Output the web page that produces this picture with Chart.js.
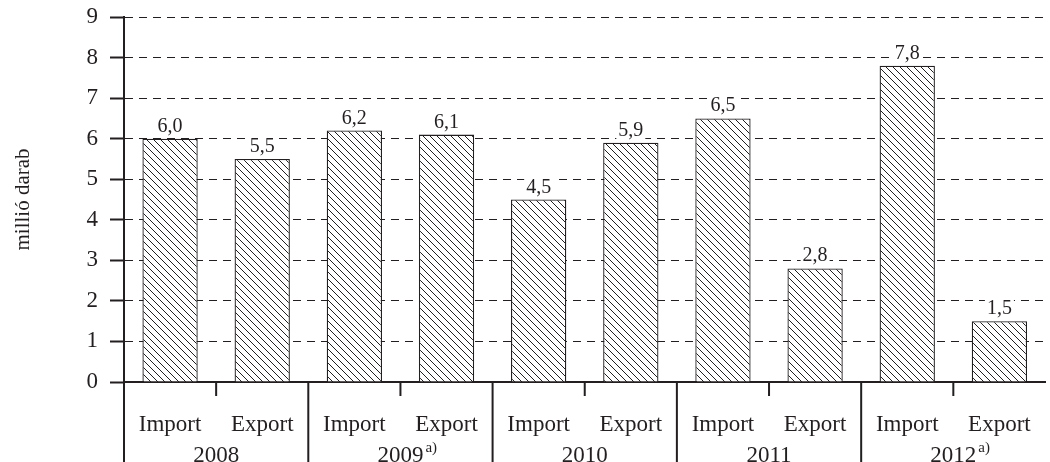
<!DOCTYPE html>
<html>
<head>
<meta charset="utf-8">
<script src="https://cdn.jsdelivr.net/npm/chart.js@4/dist/chart.umd.min.js"></script>
<style>
  html, body { margin: 0; padding: 0; background: #fff; overflow: hidden; }
  #wrap { width: 1060px; height: 462px; }
</style>
</head>
<body>
<div id="wrap"><canvas id="chart" width="1060" height="462"></canvas></div>
<script>
const years = ['2008', '2009', '2010', '2011', '2012'];
const yearNotes = ['', 'a)', '', '', 'a)'];
const flows = ['Import', 'Export'];
const importValues = [6.0, 6.2, 4.5, 6.5, 7.8];
const exportValues = [5.5, 6.1, 5.9, 2.8, 1.5];
const yTicks = [0, 1, 2, 3, 4, 5, 6, 7, 8, 9];

const FONT = '"Liberation Serif", "Times New Roman", serif';
const INK = '#231f20';

const labels = [];
const values = [];
years.forEach((y, i) => {
  labels.push(flows[0], flows[1]);
  values.push(importValues[i], exportValues[i]);
});

function makeHatch() {
  const size = 7;
  const c = document.createElement('canvas');
  c.width = size;
  c.height = size;
  const g = c.getContext('2d');
  g.fillStyle = '#fff';
  g.fillRect(0, 0, size, size);
  g.strokeStyle = INK;
  g.lineWidth = 1;
  g.beginPath();
  g.moveTo(-1, -1);
  g.lineTo(size + 1, size + 1);
  g.moveTo(-1, size - 1);
  g.lineTo(1, size + 1);
  g.moveTo(size - 1, -1);
  g.lineTo(size + 1, 1);
  g.stroke();
  return g.createPattern(c, 'repeat');
}

const fmt = (v) => v.toFixed(1).replace('.', ',');

const valueLabels = {
  id: 'valueLabels',
  afterDatasetsDraw(chart) {
    const ctx = chart.ctx;
    const meta = chart.getDatasetMeta(0);
    ctx.save();
    ctx.font = '20px ' + FONT;
    ctx.textAlign = 'center';
    ctx.textBaseline = 'alphabetic';
    meta.data.forEach((bar, i) => {
      const txt = fmt(values[i]);
      const w = ctx.measureText(txt).width;
      const y = bar.y - 7;
      ctx.fillStyle = '#fff';
      ctx.fillRect(bar.x - w / 2 - 2, y - 16, w + 4, 20);
      ctx.fillStyle = INK;
      ctx.fillText(txt, bar.x, y);
    });
    ctx.restore();
  }
};

const groupAxis = {
  id: 'groupAxis',
  afterDraw(chart) {
    const ctx = chart.ctx;
    const x = chart.scales.x;
    const top = x.top;
    const half = (x.getPixelForValue(1) - x.getPixelForValue(0)) / 2;
    ctx.save();
    ctx.strokeStyle = INK;
    ctx.lineWidth = 2;
    years.forEach((y, g) => {
      const left = x.getPixelForValue(g * 2) - half;
      const mid = x.getPixelForValue(g * 2) + half;
      ctx.beginPath();
      ctx.moveTo(left, top);
      ctx.lineTo(left, chart.height);
      ctx.moveTo(mid, top);
      ctx.lineTo(mid, top + 14);
      ctx.stroke();
    });
    ctx.fillStyle = INK;
    ctx.textBaseline = 'middle';
    years.forEach((y, g) => {
      const mid = x.getPixelForValue(g * 2) + half;
      ctx.font = '23px ' + FONT;
      const w = ctx.measureText(y).width;
      ctx.textAlign = 'center';
      ctx.fillText(y, mid, top + 74);
      if (yearNotes[g]) {
        ctx.font = '15px ' + FONT;
        ctx.textAlign = 'left';
        ctx.fillText(yearNotes[g], mid + w / 2 + 2, top + 66);
      }
    });
    ctx.restore();
  }
};

const ctx = document.getElementById('chart').getContext('2d');
new Chart(ctx, {
  type: 'bar',
  data: {
    labels: labels,
    datasets: [{
      data: values,
      backgroundColor: makeHatch(),
      borderColor: INK,
      borderWidth: 1.3,
      barPercentage: 0.6,
      categoryPercentage: 1
    }]
  },
  options: {
    responsive: false,
    animation: false,
    layout: { padding: { top: 17, right: 6, left: 0, bottom: 0 } },
    plugins: {
      legend: { display: false },
      tooltip: { enabled: false },
      title: { display: false }
    },
    scales: {
      x: {
        grid: { display: false, drawTicks: false },
        border: { display: true, color: INK, width: 2 },
        ticks: {
          color: INK,
          font: { family: FONT, size: 23 },
          padding: 29,
          maxRotation: 0,
          autoSkip: false
        },
        afterFit(scale) { scale.height = 80; }
      },
      y: {
        min: 0,
        max: 9,
        afterBuildTicks(scale) { scale.ticks = yTicks.map((v) => ({ value: v })); },
        grid: {
          color: INK,
          lineWidth: 1,
          tickColor: INK,
          tickWidth: 2,
          tickLength: 14,
          drawOnChartArea: true
        },
        border: { display: true, color: INK, width: 2, dash: [8, 6] },
        ticks: {
          color: INK,
          font: { family: FONT, size: 23 },
          padding: 12
        },
        title: {
          display: true,
          text: 'millió darab',
          color: INK,
          font: { family: FONT, size: 21 },
          padding: { top: 11, bottom: 0 }
        },
        afterFit(scale) {
          scale.width = 124;
          scale.paddingTop = 0;
          scale.paddingBottom = 0;
        }
      }
    }
  },
  plugins: [valueLabels, groupAxis]
});
</script>
</body>
</html>
